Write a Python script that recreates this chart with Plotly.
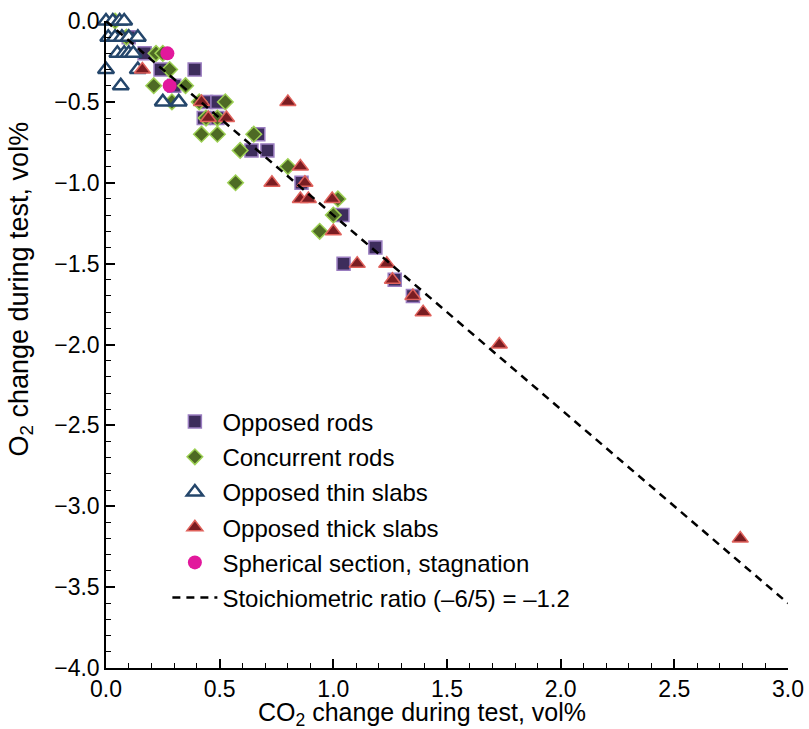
import plotly.graph_objects as go

# ---- data ----
opp_rods_x = [0.10, 0.17, 0.24, 0.39, 0.30, 0.44, 0.49, 0.43, 0.49, 0.67, 0.64, 0.71, 0.86, 1.04, 1.185, 1.045, 1.27, 1.35]
opp_rods_y = [-0.1, -0.2, -0.3, -0.3, -0.4, -0.5, -0.5, -0.6, -0.6, -0.7, -0.8, -0.8, -1.0, -1.2, -1.4, -1.5, -1.6, -1.7]

conc_rods_x = [0.04, 0.09, 0.22, 0.25, 0.28, 0.21, 0.35, 0.29, 0.41, 0.525, 0.44, 0.49, 0.42, 0.49, 0.65, 0.59, 0.57, 0.80, 1.02, 1.00, 0.94]
conc_rods_y = [0.0, -0.1, -0.2, -0.2, -0.3, -0.4, -0.4, -0.5, -0.5, -0.5, -0.6, -0.6, -0.7, -0.7, -0.7, -0.8, -1.0, -0.9, -1.1, -1.2, -1.3]

thin_x = [0.0, 0.03, 0.06, 0.08, 0.01, 0.04, 0.07, 0.10, 0.14, 0.05, 0.08, 0.10, 0.12, 0.0, 0.14, 0.065, 0.25, 0.32]
thin_y = [0.0, 0.0, 0.0, 0.0, -0.1, -0.1, -0.1, -0.1, -0.1, -0.2, -0.2, -0.2, -0.2, -0.3, -0.3, -0.4, -0.5, -0.5]

thick_x = [0.16, 0.42, 0.45, 0.53, 0.80, 0.855, 0.73, 0.875, 0.855, 0.89, 0.995, 1.00, 1.105, 1.235, 1.26, 1.35, 1.395, 1.73, 2.79]
thick_y = [-0.3, -0.5, -0.6, -0.6, -0.5, -0.9, -1.0, -1.0, -1.1, -1.1, -1.1, -1.3, -1.5, -1.5, -1.6, -1.7, -1.8, -2.0, -3.2]

sph_x = [0.27, 0.28]
sph_y = [-0.2, -0.4]

stoich_ratio = -6 / 5
line_x = [0.0, 3.0]
line_y = [stoich_ratio * v for v in line_x]

names = ["Opposed rods", "Concurrent rods", "Opposed thin slabs", "Opposed thick slabs",
         "Spherical section, stagnation", "Stoichiometric ratio (\u20136/5) = \u20131.2"]

FONT = "Arial, Liberation Sans, sans-serif"

fig = go.Figure()
fig.add_trace(go.Scatter(x=opp_rods_x, y=opp_rods_y, mode="markers", name=names[0], legendgroup="a",
                         marker=dict(symbol="square", size=13, color="#3d2d5c",
                                     line=dict(color="#9a7dc0", width=1.5))))
fig.add_trace(go.Scatter(x=conc_rods_x, y=conc_rods_y, mode="markers", name=names[1], legendgroup="b",
                         marker=dict(symbol="diamond", size=12, color="#4e6a24",
                                     line=dict(color="#9dd054", width=1.5))))
fig.add_trace(go.Scatter(x=thin_x, y=thin_y, mode="markers", name=names[2], legendgroup="c",
                         marker=dict(symbol="triangle-up", size=14, color="white",
                                     line=dict(color="#24466b", width=2.5))))
fig.add_trace(go.Scatter(x=thick_x, y=thick_y, mode="markers", name=names[3], legendgroup="d",
                         marker=dict(symbol="triangle-up", size=14, color="#7a1d22",
                                     line=dict(color="#e0625c", width=1.5))))
fig.add_trace(go.Scatter(x=sph_x, y=sph_y, mode="markers", name=names[4], legendgroup="e",
                         marker=dict(symbol="circle", size=14, color="#e2189c",
                                     line=dict(color="#e2189c", width=0))))
fig.add_trace(go.Scatter(x=line_x, y=line_y, mode="lines", name=names[5], legendgroup="f",
                         line=dict(color="black", width=2.5, dash="8px,6px")))

fig.update_traces(cliponaxis=False)

axis_common = dict(
    showline=True, linecolor="black", linewidth=1.5, mirror=False,
    showgrid=False, zeroline=False, automargin=False,
    ticks="inside", ticklen=9, tickwidth=1.5, tickcolor="black",
    tickformat=".1f", dtick=0.5,
    tickfont=dict(family=FONT, size=23, color="black"),
    minor=dict(dtick=0.1, ticks="inside", ticklen=5, tickwidth=1.2, tickcolor="black"),
)

fig.update_xaxes(range=[0, 3], tick0=0, **axis_common)
fig.update_yaxes(range=[-4, 0], tick0=0, **axis_common)

fig.update_layout(
    width=809, height=729,
    margin=dict(l=106, r=21, t=21, b=61),
    paper_bgcolor="white", plot_bgcolor="white",
    font=dict(family=FONT, size=24, color="black"),
    showlegend=True,
    legend=dict(x=0.09, y=0.415, xanchor="left", yanchor="top",
                bgcolor="rgba(0,0,0,0)", font=dict(family=FONT, size=24, color="black"),
                itemwidth=45, tracegroupgap=1),
    annotations=[
        dict(text="CO<sub>2</sub> change during test, vol%", xref="paper", yref="paper",
             x=0.464, y=-0.071, xanchor="center", yanchor="middle", showarrow=False,
             font=dict(family=FONT, size=25, color="black")),
        dict(text="O<sub>2</sub> change during test, vol%", xref="paper", yref="paper",
             x=-0.126, y=0.585, xanchor="center", yanchor="middle", showarrow=False,
             textangle=-90, font=dict(family=FONT, size=27, color="black")),
    ],
)

fig.write_html("out.html")
